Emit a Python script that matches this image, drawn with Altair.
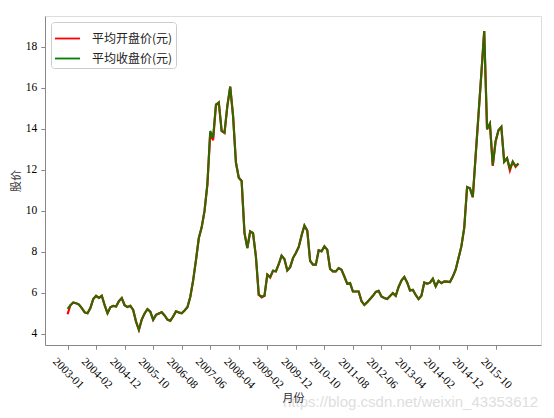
import altair as alt
import pandas as pd

# ---- categories (months) ----
months_2003 = ["2003-01", "2003-05", "2003-06", "2003-07", "2003-08",
               "2003-09", "2003-10", "2003-11", "2003-12"]
months_rest = [str(p) for p in pd.period_range("2004-01", "2016-06", freq="M")]
months = months_2003 + months_rest

# ---- average closing price (元) ----
close = [
    5.22, 5.40, 5.53, 5.50, 5.43, 5.26, 5.05, 5.01, 5.26, 5.70,
    5.86, 5.76, 5.86, 5.40, 5.01, 5.30, 5.37, 5.34, 5.60, 5.75,
    5.40, 5.31, 5.37, 5.17, 4.60, 4.20, 4.70, 5.00, 5.21, 5.09,
    4.69, 4.93, 5.00, 5.06, 4.90, 4.70, 4.64, 4.85, 5.10, 5.05,
    5.01, 5.14, 5.30, 5.80, 6.60, 7.60, 8.68, 9.20, 10.00, 11.30,
    13.90, 13.58, 15.20, 15.29, 13.90, 13.82, 15.13, 16.07, 14.64, 12.36,
    11.62, 11.46, 8.93, 8.19, 9.00, 8.93, 7.78, 5.91, 5.83, 5.86,
    6.89, 6.78, 7.08, 7.05, 7.40, 7.82, 7.65, 7.10, 7.26, 7.70,
    7.95, 8.24, 8.80, 9.29, 9.04, 7.59, 7.38, 7.38, 8.08, 8.03,
    8.27, 8.11, 7.17, 7.05, 7.05, 7.21, 7.13, 6.80, 6.45, 6.48,
    6.07, 6.07, 6.07, 5.60, 5.42, 5.55, 5.70, 5.86, 6.05, 6.10,
    5.83, 5.75, 5.70, 5.85, 5.99, 5.86, 6.29, 6.60, 6.78, 6.51,
    6.12, 6.15, 5.90, 5.70, 5.86, 6.51, 6.45, 6.50, 6.69, 6.32,
    6.59, 6.48, 6.56, 6.55, 6.53, 6.80, 7.13, 7.70, 8.27, 9.17,
    11.16, 11.10, 10.67, 12.70, 14.70, 16.70, 18.78, 13.99, 14.26, 12.24,
    13.40, 13.94, 14.10, 12.40, 12.57, 12.08, 12.40, 12.19, 12.31,
]

# ---- average opening price (元) ----
open_ = [
    4.96, 5.40, 5.53, 5.50, 5.43, 5.26, 5.05, 5.01, 5.26, 5.70,
    5.86, 5.76, 5.86, 5.40, 5.01, 5.30, 5.37, 5.34, 5.60, 5.75,
    5.40, 5.31, 5.37, 5.17, 4.60, 4.20, 4.70, 5.00, 5.21, 5.09,
    4.69, 4.93, 5.00, 5.06, 4.90, 4.70, 4.64, 4.85, 5.10, 5.05,
    5.01, 5.14, 5.30, 5.80, 6.60, 7.60, 8.68, 9.20, 10.00, 11.30,
    13.80, 13.45, 15.15, 15.29, 13.90, 13.80, 15.13, 16.05, 14.64, 12.36,
    11.62, 11.46, 8.93, 8.19, 9.00, 8.90, 7.78, 5.91, 5.78, 5.86,
    6.89, 6.75, 7.08, 7.05, 7.40, 7.82, 7.65, 7.10, 7.26, 7.70,
    7.95, 8.24, 8.80, 9.29, 9.04, 7.55, 7.38, 7.38, 8.08, 8.03,
    8.27, 8.11, 7.17, 7.05, 7.05, 7.21, 7.13, 6.80, 6.45, 6.48,
    6.07, 6.07, 6.07, 5.60, 5.42, 5.55, 5.70, 5.86, 6.05, 6.10,
    5.83, 5.75, 5.70, 5.85, 5.99, 5.86, 6.29, 6.60, 6.78, 6.51,
    6.12, 6.15, 5.90, 5.70, 5.86, 6.51, 6.45, 6.50, 6.69, 6.32,
    6.59, 6.48, 6.56, 6.55, 6.53, 6.80, 7.13, 7.70, 8.27, 9.17,
    11.16, 11.10, 10.67, 12.70, 14.70, 16.70, 18.78, 13.99, 14.26, 12.20,
    13.40, 13.94, 14.10, 12.40, 12.57, 11.98, 12.40, 12.15, 12.31,
]

series_names = ["平均开盘价(元)", "平均收盘价(元)"]
series_colors = ["#ff0000", "#008000"]
x_tick_labels = months[::10]
y_ticks = [4, 6, 8, 10, 12, 14, 16, 18]

idx = list(range(len(months)))
df = pd.concat([
    pd.DataFrame({"idx": idx, "月份": months, "股价": open_, "series": series_names[0]}),
    pd.DataFrame({"idx": idx, "月份": months, "股价": close, "series": series_names[1]}),
], ignore_index=True)

SERIF = "Liberation Serif"
CJK = "Noto Sans CJK SC"

label_array = "[" + ",".join("'" + m + "'" for m in x_tick_labels) + "]"
tick_positions = [i * 10 for i in range(len(x_tick_labels))]
n = len(months) - 1
margin = 0.05 * n

x_enc = alt.X(
    "idx:Q",
    scale=alt.Scale(domain=[-margin, n + margin], nice=False, zero=False),
    axis=alt.Axis(
        values=tick_positions, labelExpr=label_array + "[round(datum.value / 10)]",
        labelAngle=45, labelAlign="center", grid=False,
        labelBaseline="middle", labelPadding=24, tickSize=4.2,
        labelFont=SERIF, labelFontSize=11.5, labelColor="black",
        labelOverlap=False, labelFlush=False,
        title="月份", titleFont=CJK, titleFontSize=11, titleFontWeight="normal",
        titleColor="#333333", titlePadding=2, zindex=1,
    ),
)
y_enc = alt.Y(
    "股价:Q",
    scale=alt.Scale(domain=[3.46, 19.51], nice=False, zero=False),
    axis=alt.Axis(
        values=y_ticks, tickSize=4.2, labelPadding=4, grid=False,
        labelFont=SERIF, labelFontSize=11.5, labelColor="black",
        title="股价", titleFont=CJK, titleFontSize=11, titleFontWeight="normal",
        titleColor="#333333", titlePadding=4,
    ),
)
color_enc = alt.Color(
    "series:N",
    scale=alt.Scale(domain=series_names, range=series_colors),
    legend=alt.Legend(
        title=None, orient="top-left", offset=6,
        symbolType="stroke", symbolSize=625, symbolStrokeWidth=1.8,
        labelFont=CJK, labelFontSize=12, labelOffset=11, labelColor="#222222",
        fillColor="white", strokeColor="#cccccc", cornerRadius=3, padding=3,
        rowPadding=-12,
    ),
)

base = alt.Chart(df)
red_line = base.transform_filter(alt.datum.series == series_names[0]).mark_line(
    strokeWidth=2.2).encode(x=x_enc, y=y_enc, color=color_enc)
green_line = base.transform_filter(alt.datum.series == series_names[1]).mark_line(
    strokeWidth=2.1).encode(x=x_enc, y=y_enc, color=color_enc,
                            stroke=alt.value("#2f6a00"))

watermark = alt.Chart(alt.Data(values=[{"t": "https://blog.csdn.net/weixin_43353612"}])).mark_text(
    align="left", baseline="alphabetic", font="Liberation Sans", fontSize=15,
    color="#dedede",
).encode(x=alt.value(238), y=alt.value(391), text="t:N")

chart = alt.layer(red_line, green_line, watermark).properties(
    width=496, height=329,
    autosize=alt.AutoSizeParams(type="none"),
    padding={"left": 37, "top": 8, "right": 5, "bottom": 65},
).configure_view(
    stroke="black", strokeWidth=1,
).configure_axis(
    grid=False, domainColor="black", domainWidth=1, tickColor="black", tickWidth=1,
).configure(background="white")

chart.save("out.html", embed_options={"renderer": "svg", "actions": False})
